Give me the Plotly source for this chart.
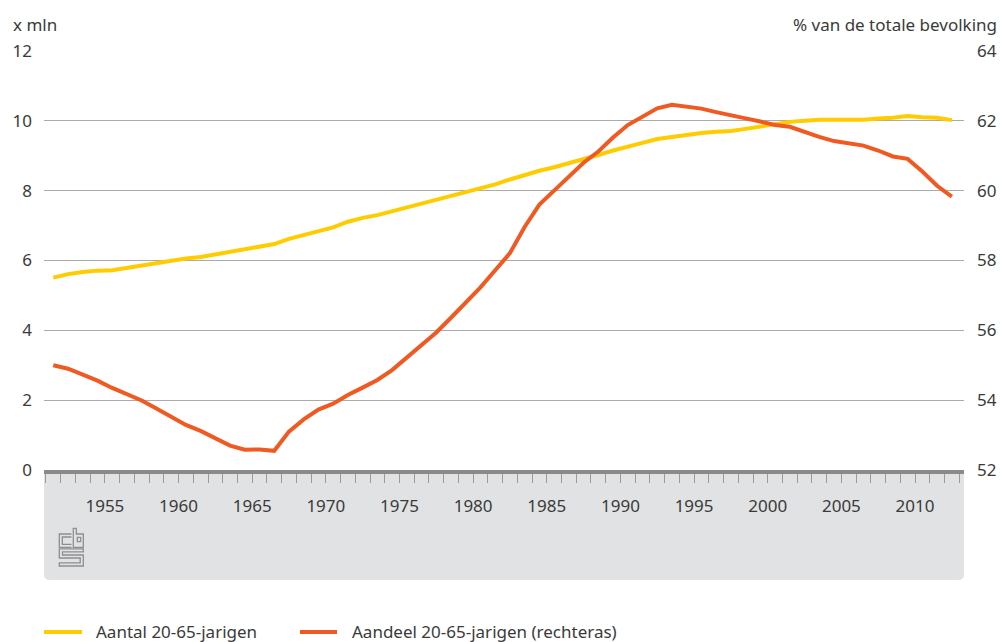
import plotly.graph_objects as go

# ---- data ----
years = list(range(1951, 2013))  # plotted at mid-year
aantal_mln = [5.51, 5.61, 5.67, 5.71, 5.72, 5.79, 5.86, 5.92, 5.99, 6.06,
              6.10, 6.17, 6.26, 6.32, 6.39, 6.47, 6.62, 6.74, 6.85, 6.95,
              7.11, 7.22, 7.30, 7.41, 7.50, 7.61, 7.72, 7.83, 7.94, 8.06,
              8.18, 8.32, 8.46, 8.57, 8.67, 8.78, 8.90, 9.02, 9.15, 9.27,
              9.37, 9.48, 9.54, 9.59, 9.65, 9.69, 9.71, 9.77, 9.84, 9.91,
              9.97, 10.00, 10.03, 10.03, 10.03, 10.03, 10.07, 10.09, 10.14, 10.10,
              10.09, 10.02]
aandeel_pct = [55.00, 54.90, 54.73, 54.56, 54.35, 54.18, 53.99, 53.76, 53.52, 53.29,
               53.12, 52.91, 52.70, 52.58, 52.59, 52.55, 53.10, 53.45, 53.73, 53.90,
               54.15, 54.36, 54.58, 54.86, 55.21, 55.58, 55.94, 56.36, 56.80, 57.23,
               57.72, 58.21, 58.96, 59.60, 60.00, 60.40, 60.80, 61.12, 61.52, 61.88,
               62.13, 62.36, 62.46, 62.41, 62.35, 62.25, 62.17, 62.07, 61.98, 61.88,
               61.83, 61.67, 61.54, 61.42, 61.35, 61.29, 61.15, 60.98, 60.91, 60.55,
               60.14, 59.83]
series_names = ["Aantal 20-65-jarigen", "Aandeel 20-65-jarigen (rechteras)"]
left_title = "x mln"
right_title = "% van de totale bevolking"

dates = [f"{y}-07-01" for y in years]

YELLOW = "#FFCC00"
ORANGE = "#F05A22"
TXT = "#3a3a3a"
FONT = "Noto Sans"
FS = 17

fig = go.Figure()
fig.add_trace(go.Scatter(x=dates, y=aantal_mln, mode="lines", name=series_names[0],
                         line=dict(color=YELLOW, width=4), yaxis="y", showlegend=False))
fig.add_trace(go.Scatter(x=dates, y=aandeel_pct, mode="lines", name=series_names[1],
                         line=dict(color=ORANGE, width=4), yaxis="y2", showlegend=False))

# plot-area geometry in px (for decoration placement)
L, R, T, B = 44, 964, 51, 470
W, H = R - L, B - T
def px(x):
    return (x - L) / W
def py(y):
    return (B - y) / H

shapes = []
# grey band under the axis with rounded bottom corners
yb = py(580)
rx, ry = 6 / W, 6 / H
shapes.append(dict(type="path", xref="paper", yref="paper", layer="below",
                   path=f"M 0,0 L 1,0 L 1,{yb+ry} Q 1,{yb} {1-rx},{yb} L {rx},{yb} Q 0,{yb} 0,{yb+ry} Z",
                   fillcolor="#E1E2E4", line=dict(width=0)))

# CBS logo (approximation)
def pth(points, close=False):
    s = "M " + " L ".join(f"{px(a)},{py(b)}" for a, b in points)
    return s + (" Z" if close else "")
logo_col = "#8e8e8e"
logo_paths = [
    [(71.5, 534), (59.3, 534), (59.3, 547.3), (71.5, 547.3)],
    [(71.5, 537), (62.3, 537), (62.3, 544.3), (71.5, 544.3)],
    [(73.3, 528.3), (76.3, 528.3), (76.3, 534), (83.3, 534), (83.3, 547.3), (73.3, 547.3)],
    [(77.3, 537.3), (80.6, 537.3), (80.6, 541.7), (77.3, 541.7)],
    [(83.3, 548.8), (59.3, 548.8), (59.3, 558), (80.2, 558), (80.2, 562.8), (59.3, 562.8),
     (59.3, 566), (83.3, 566), (83.3, 555), (62.5, 555), (62.5, 551.8), (83.3, 551.8)],
]
for i, p in enumerate(logo_paths):
    shapes.append(dict(type="path", xref="paper", yref="paper",
                       path=pth(p, close=(i in (2, 3, 4))),
                       line=dict(color=logo_col, width=1.3)))

# legend samples
ly = py(632)
shapes.append(dict(type="line", xref="paper", yref="paper", x0=px(44), x1=px(82), y0=ly, y1=ly,
                   line=dict(color=YELLOW, width=4)))
shapes.append(dict(type="line", xref="paper", yref="paper", x0=px(300), x1=px(337), y0=ly, y1=ly,
                   line=dict(color=ORANGE, width=4)))

annotations = [
    dict(text=left_title, xref="paper", yref="paper", x=px(11), y=py(24), xanchor="left",
         yanchor="middle", showarrow=False, font=dict(family=FONT, size=FS, color=TXT)),
    dict(text=right_title, xref="paper", yref="paper", x=px(999), y=py(24), xanchor="right",
         yanchor="middle", showarrow=False, font=dict(family=FONT, size=FS, color=TXT)),
    dict(text=series_names[0], xref="paper", yref="paper", x=px(94), y=py(631), xanchor="left",
         yanchor="middle", showarrow=False, font=dict(family=FONT, size=FS, color=TXT)),
    dict(text=series_names[1], xref="paper", yref="paper", x=px(350), y=py(631), xanchor="left",
         yanchor="middle", showarrow=False, font=dict(family=FONT, size=FS, color=TXT)),
]

fig.update_layout(
    width=1001, height=642, autosize=False,
    margin=dict(l=L, r=1001 - R, t=T, b=642 - B, pad=0),
    paper_bgcolor="white", plot_bgcolor="white",
    font=dict(family=FONT, size=FS, color=TXT),
    shapes=shapes, annotations=annotations,
    showlegend=False,
    xaxis=dict(type="date", range=["1950-11-13", "2013-04-29"],
               tick0="1955-01-01", dtick="M60", tickformat="%Y",
               ticks="outside", ticklen=9, tickwidth=1, tickcolor="#9a9a9a",
               minor=dict(dtick="M12", tick0="1951-01-01", ticks="outside", ticklen=9,
                          tickwidth=1, tickcolor="#9a9a9a", showgrid=False),
               showgrid=False, zeroline=False,
               showline=True, linewidth=4, linecolor="#8a8a8a",
               tickfont=dict(family=FONT, size=FS, color=TXT),
               ticklabelstandoff=9, automargin=False),
    yaxis=dict(range=[0, 12], dtick=2, tick0=0, showgrid=True, gridcolor="#ABABAB",
               gridwidth=1.3, zeroline=False, showline=False, ticks="",
               tickfont=dict(family=FONT, size=FS, color=TXT),
               ticklabelstandoff=11, automargin=False),
    yaxis2=dict(range=[52, 64], dtick=2, tick0=52, overlaying="y", side="right",
                showgrid=False, zeroline=False, showline=False, ticks="",
                tickfont=dict(family=FONT, size=FS, color=TXT),
                ticklabelstandoff=12, automargin=False),
)

fig.write_html("out.html", config={"displayModeBar": False},
               post_script="document.body.style.margin='0';document.body.style.overflow='hidden';")
